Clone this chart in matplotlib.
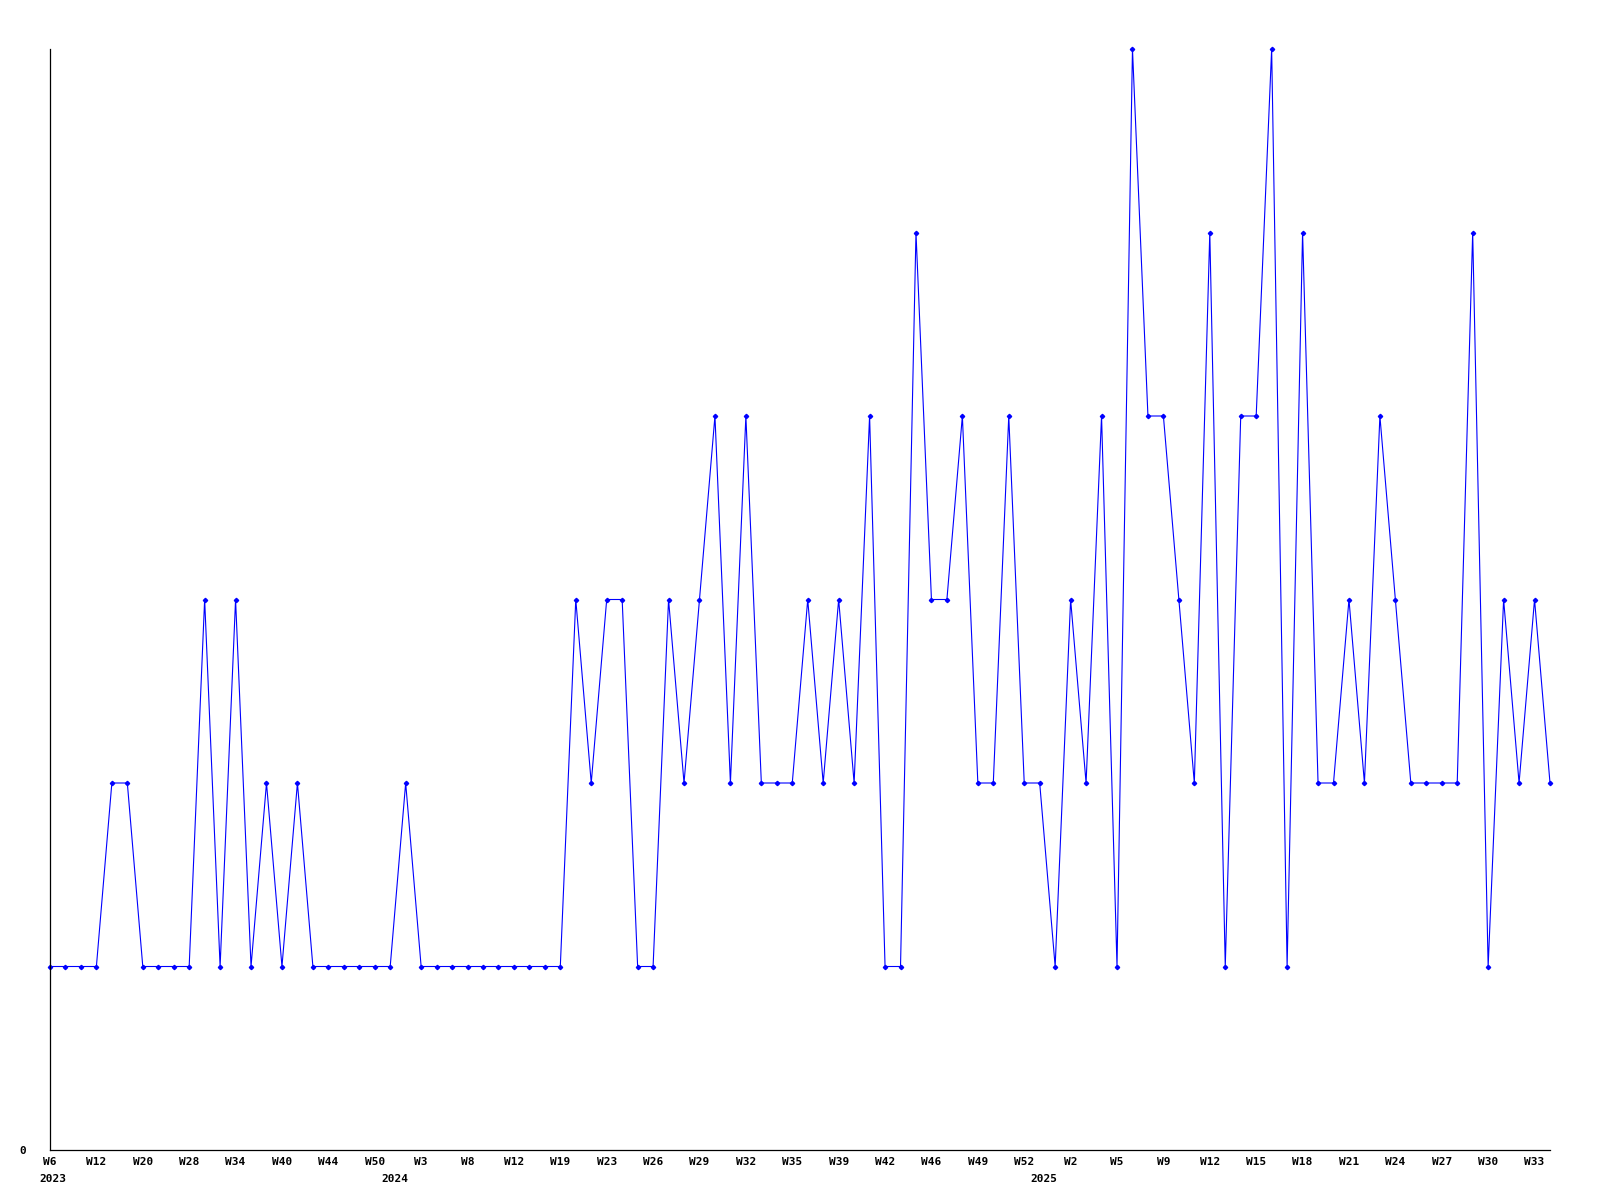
import matplotlib
matplotlib.use("Agg")
import matplotlib.pyplot as plt

values = [1, 1, 1, 1, 2, 2, 1, 1, 1, 1,
          3, 1, 3, 1, 2, 1, 2, 1, 1, 1,
          1, 1, 1, 2, 1, 1, 1, 1, 1, 1,
          1, 1, 1, 1, 3, 2, 3, 3, 1, 1,
          3, 2, 3, 4, 2, 4, 2, 2, 2, 3,
          2, 3, 2, 4, 1, 1, 5, 3, 3, 4,
          2, 2, 4, 2, 2, 1, 3, 2, 4, 1,
          6, 4, 4, 3, 2, 5, 1, 4, 4, 6,
          1, 5, 2, 2, 3, 2, 4, 3, 2, 2,
          2, 2, 5, 1, 3, 2, 3, 2]

tick_labels = ["W6", "W12", "W20", "W28", "W34", "W40", "W44", "W50",
               "W3", "W8", "W12", "W19", "W23", "W26", "W29", "W32", "W35",
               "W39", "W42", "W46", "W49", "W52",
               "W2", "W5", "W9", "W12", "W15", "W18", "W21", "W24", "W27",
               "W30", "W33"]
tick_step = 3
years = ["2023", "2024", "2025"]
year_index = [0, 24, 66]

fig = plt.figure(figsize=(16, 12), dpi=100)
ax = fig.add_axes([50/1600, 1 - 1150/1200, 1500/1600, (1150 - 49)/1200])

x = list(range(len(values)))
ax.plot(x, values, color="#0000ff", linewidth=0.8, marker="D",
        markersize=2.2, markerfacecolor="#0000ff", markeredgecolor="#0000ff",
        clip_on=False)

ax.set_xlim(0, len(values) - 1)
ax.set_ylim(0, 6)
for s in ["top", "right"]:
    ax.spines[s].set_visible(False)
for s in ["left", "bottom"]:
    ax.spines[s].set_color("black")
    ax.spines[s].set_linewidth(0.9)

font = dict(family="DejaVu Sans Mono", weight="bold", size=8)
ax.set_yticks([0])
ax.set_yticklabels(["0"], fontdict=font)
ax.tick_params(axis="y", length=0, pad=17)
ax.set_xticks([i * tick_step for i in range(len(tick_labels))])
ax.set_xticklabels(tick_labels, fontdict=font)
ax.tick_params(axis="x", length=0, pad=5)

for yr, idx in zip(years, year_index):
    if idx == 0:
        ax.annotate(yr, xy=(idx, 0), xycoords=("data", "axes fraction"),
                    xytext=(-7.5, -17), textcoords="offset points",
                    ha="left", va="top", **font)
    else:
        ax.annotate(yr, xy=(idx, 0), xycoords=("data", "axes fraction"),
                    xytext=(-9.5, -17), textcoords="offset points",
                    ha="right", va="top", **font)

fig.savefig("out.png", dpi=100, facecolor="white")
